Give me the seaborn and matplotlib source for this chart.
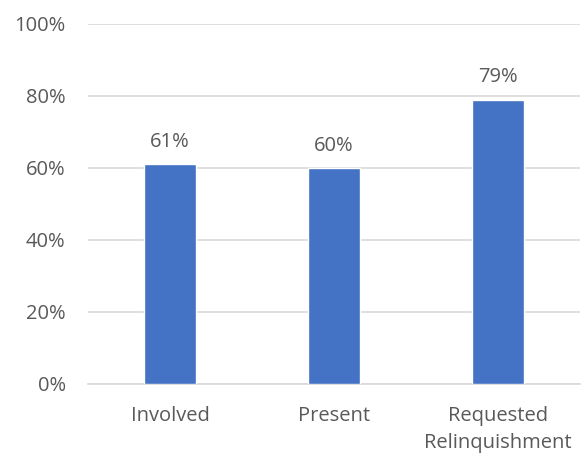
import matplotlib
matplotlib.use("Agg")
import matplotlib.pyplot as plt
import seaborn as sns
import pandas as pd

categories = ["Involved", "Present", "Requested\nRelinquishment"]
shares = [61, 60, 79]
y_ticks = [0, 20, 40, 60, 80, 100]

sns.set_theme(style="white")
plt.rcParams["font.family"] = ["Open Sans", "DejaVu Sans"]

text_color = "#595959"
grid_color = "#D9D9D9"
bar_color = "#4472C4"
fs = 14.5

df = pd.DataFrame({"category": categories, "share": shares})

fig, ax = plt.subplots(figsize=(5.86, 4.58), dpi=100)
fig.subplots_adjust(left=0.150, right=0.990, top=0.9476, bottom=0.1616)

sns.barplot(data=df, x="category", y="share", color=bar_color,
            width=0.317, saturation=1, ax=ax, zorder=3)

ax.set_ylim(0, 100)
ax.set_yticks(y_ticks)
ax.set_yticklabels([f"{v}%" for v in y_ticks])
ax.yaxis.grid(True, color=grid_color, linewidth=1.2, zorder=0)
ax.set_axisbelow(True)

for side in ["left", "right", "top"]:
    ax.spines[side].set_visible(False)
ax.spines["bottom"].set_color(grid_color)
ax.spines["bottom"].set_linewidth(1.2)

ax.tick_params(axis="y", length=0, pad=16, labelsize=fs, labelcolor=text_color)
ax.tick_params(axis="x", length=0, pad=16, labelsize=fs, labelcolor=text_color)
for lbl in ax.get_xticklabels():
    lbl.set_linespacing(1.45)
ax.set_xlabel("")
ax.set_ylabel("")

for patch, val in zip(ax.patches, shares):
    ax.annotate(f"{val}%",
                xy=(patch.get_x() + patch.get_width() / 2, patch.get_height()),
                xytext=(0, 16), textcoords="offset points",
                ha="center", va="center", fontsize=fs, color=text_color)

fig.savefig("out.png", dpi=100)
